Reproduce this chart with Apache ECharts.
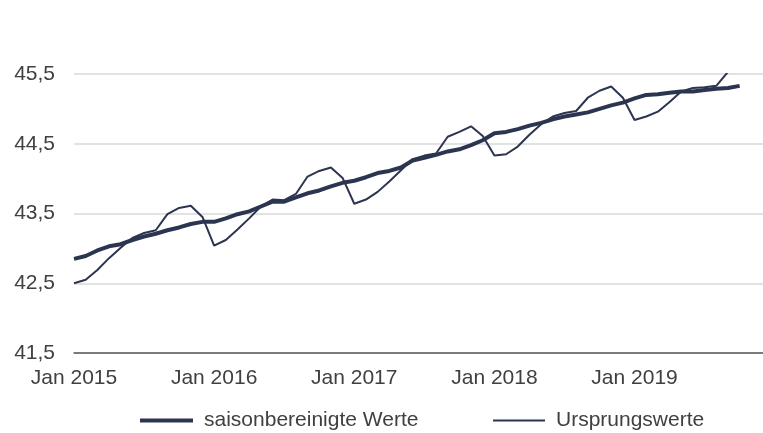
<!DOCTYPE html>
<html lang="de">
<head>
  <meta charset="UTF-8">
  <title>Saisonbereinigte Werte und Ursprungswerte</title>
  <style>
    html, body {
      margin: 0;
      padding: 0;
      background: #fff;
    }
    #chart {
      width: 763px;
      height: 433px;
    }
  </style>
  <script src="https://cdn.jsdelivr.net/npm/echarts@6/dist/echarts.min.js"></script>
</head>
<body>
<div id="chart"></div>

<script>
  // Monate / Jahre fuer die Kategorieachse
  var monthNames = ['Jan', 'Feb', 'Mär', 'Apr', 'Mai', 'Jun', 'Jul', 'Aug', 'Sep', 'Okt', 'Nov', 'Dez'];
  var years = [2015, 2016, 2017, 2018, 2019];

  // saisonbereinigte Werte (Jan 2015 - Okt 2019)
  var saisonbereinigt = [
    42.85, 42.89, 42.97, 43.03, 43.06, 43.12, 43.17, 43.21, 43.26, 43.30, 43.35, 43.38,
    43.38, 43.43, 43.49, 43.53, 43.60, 43.67, 43.67, 43.73, 43.79, 43.83, 43.89, 43.94,
    43.97, 44.02, 44.08, 44.11, 44.16, 44.26, 44.30, 44.34, 44.39, 44.42, 44.48, 44.55,
    44.65, 44.67, 44.71, 44.76, 44.80, 44.85, 44.89, 44.92, 44.95, 45.00, 45.05, 45.09,
    45.15, 45.20, 45.21, 45.23, 45.25, 45.25, 45.27, 45.29, 45.30, 45.33
  ];

  // Ursprungswerte (Jan 2015 - Okt 2019)
  var ursprung = [
    42.50, 42.55, 42.69, 42.86, 43.01, 43.15, 43.22, 43.26, 43.49, 43.58, 43.61, 43.45,
    43.04, 43.12, 43.27, 43.43, 43.60, 43.70, 43.69, 43.78, 44.03, 44.11, 44.16, 44.01,
    43.64, 43.70, 43.81, 43.96, 44.12, 44.28, 44.33, 44.36, 44.60, 44.67, 44.75, 44.61,
    44.33, 44.35, 44.46, 44.63, 44.78, 44.89, 44.94, 44.97, 45.16, 45.26, 45.32, 45.16,
    44.84, 44.89, 44.96, 45.10, 45.25, 45.30, 45.31, 45.33, 45.53, 45.64
  ];

  var categories = [];
  years.forEach(function (y) {
    monthNames.forEach(function (m) {
      categories.push(m + ' ' + y);
    });
  });

  var lineColor = '#2c3550';
  var textColor = '#404040';
  var fontFamily = "'Liberation Sans', Arial, sans-serif";

  var chart = echarts.init(document.getElementById('chart'));

  var option = {
    animation: false,
    textStyle: {
      fontFamily: fontFamily
    },
    grid: {
      left: 74,
      right: -7,
      top: 74,
      bottom: 80,
      containLabel: false
    },
    legend: [
      {
        data: ['saisonbereinigte Werte'],
        left: 140,
        top: 410,
        padding: 0,
        icon: 'rect',
        itemWidth: 53,
        itemHeight: 4,
        itemStyle: { color: lineColor },
        textStyle: {
          fontSize: 21,
          color: textColor,
          fontFamily: fontFamily,
          padding: [0, 0, 0, 6]
        }
      },
      {
        data: ['Ursprungswerte'],
        left: 493,
        top: 410,
        padding: 0,
        icon: 'rect',
        itemWidth: 52,
        itemHeight: 2,
        itemStyle: { color: lineColor },
        textStyle: {
          fontSize: 21,
          color: textColor,
          fontFamily: fontFamily,
          padding: [0, 0, 0, 6]
        }
      }
    ],
    xAxis: {
      type: 'category',
      data: categories,
      boundaryGap: false,
      axisLine: {
        lineStyle: { color: '#595959', width: 1.5 }
      },
      axisTick: { show: false },
      axisLabel: {
        interval: 11,
        margin: 15,
        fontSize: 21,
        color: textColor,
        fontFamily: fontFamily
      },
      splitLine: { show: false }
    },
    yAxis: {
      type: 'value',
      min: 41.5,
      max: 45.5,
      interval: 1,
      axisLine: { show: false },
      axisTick: { show: false },
      axisLabel: {
        margin: 19,
        fontSize: 21,
        color: textColor,
        fontFamily: fontFamily,
        formatter: function (v) {
          return v.toFixed(1).replace('.', ',');
        }
      },
      splitLine: {
        lineStyle: { color: '#d9d9d9', width: 1.5 }
      }
    },
    series: [
      {
        name: 'saisonbereinigte Werte',
        type: 'line',
        data: saisonbereinigt,
        symbol: 'none',
        clip: true,
        lineStyle: { color: lineColor, width: 4 },
        itemStyle: { color: lineColor }
      },
      {
        name: 'Ursprungswerte',
        type: 'line',
        data: ursprung,
        symbol: 'none',
        clip: true,
        lineStyle: { color: lineColor, width: 2 },
        itemStyle: { color: lineColor }
      }
    ]
  };

  chart.setOption(option);
</script>
</body>
</html>
